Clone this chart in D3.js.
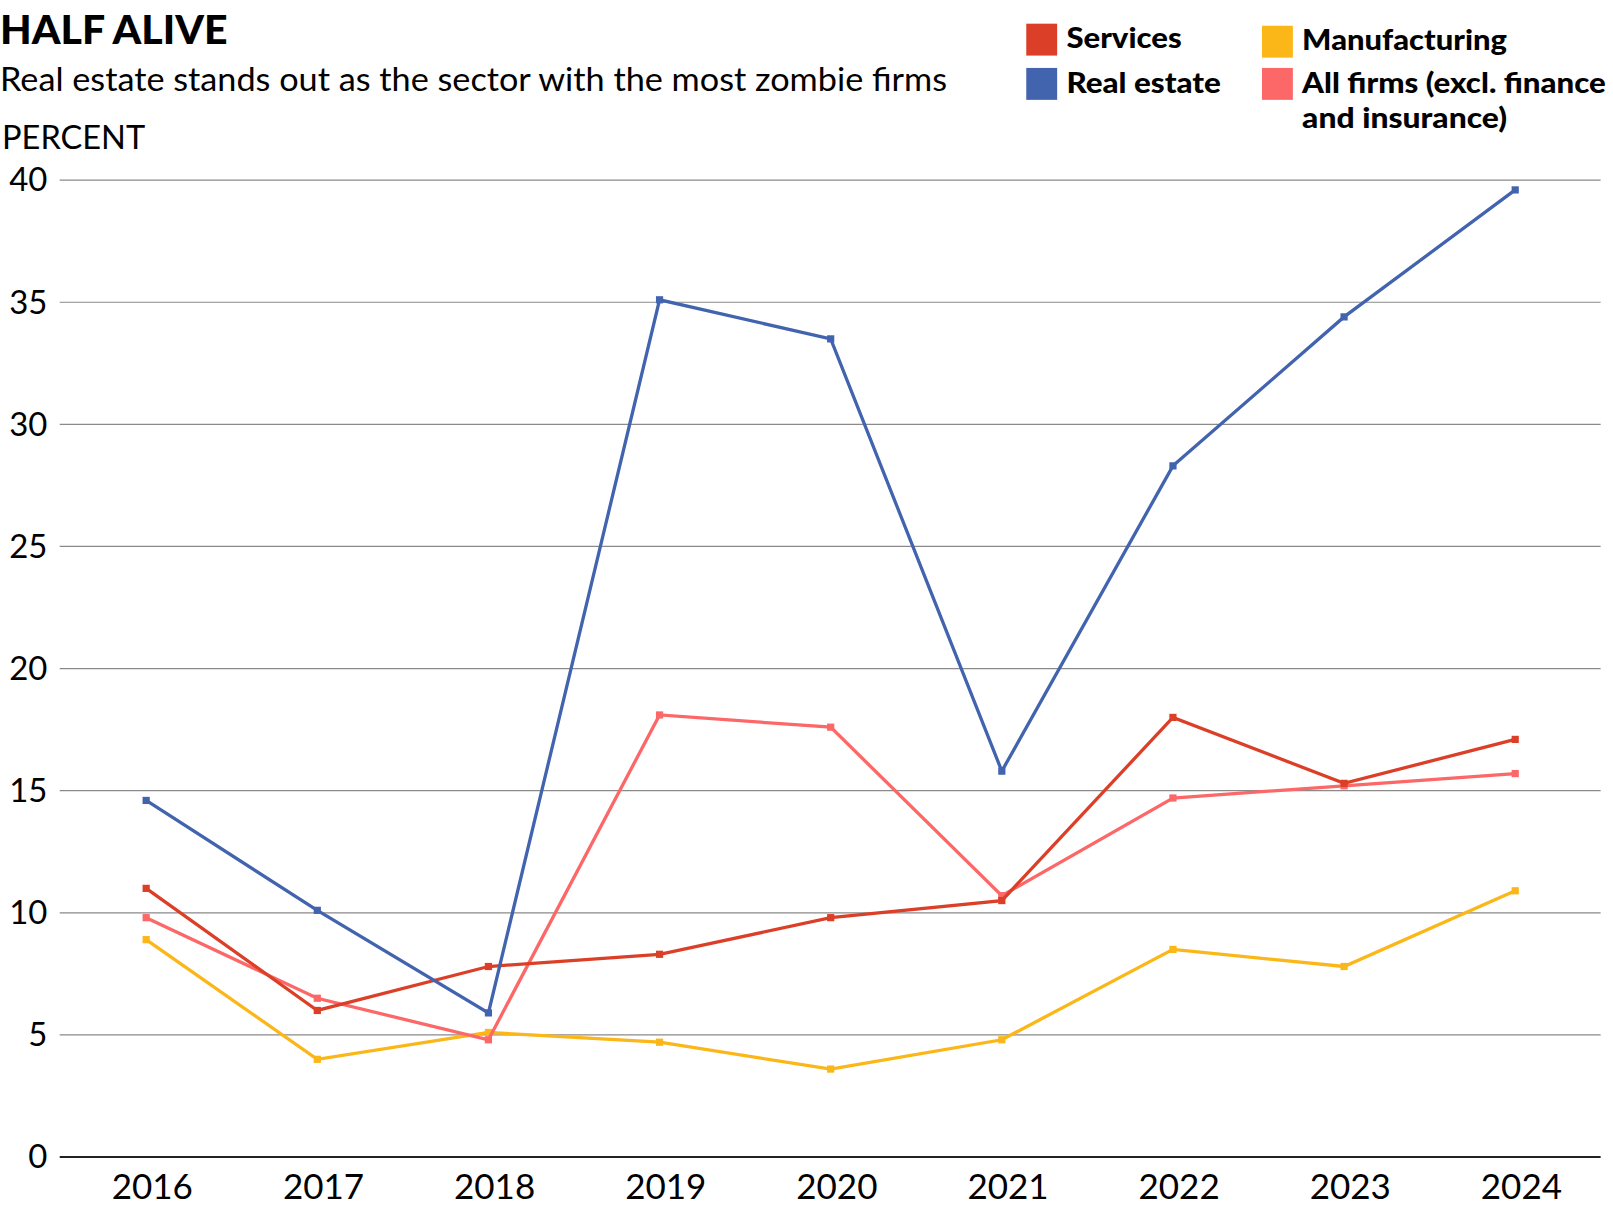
<!DOCTYPE html>
<html>
<head>
<meta charset="utf-8">
<script src="https://cdn.jsdelivr.net/npm/d3@7"></script>
<style>
  html, body { margin: 0; padding: 0; background: #fff; overflow: hidden; }
  svg { display: block; }
  svg text { font-family: Lato, "Open Sans", sans-serif; fill: #000; }
</style>
</head>
<body>
<script>
// data (percent of firms)
const years = [2016, 2017, 2018, 2019, 2020, 2021, 2022, 2023, 2024];
const services      = [11.0, 6.0, 7.8, 8.3, 9.8, 10.5, 18.0, 15.3, 17.1];
const realEstate    = [14.6, 10.1, 5.9, 35.1, 33.5, 15.8, 28.3, 34.4, 39.6];
const manufacturing = [8.9, 4.0, 5.1, 4.7, 3.6, 4.8, 8.5, 7.8, 10.9];
const allFirms      = [9.8, 6.5, 4.8, 18.1, 17.6, 10.7, 14.7, 15.2, 15.7];
const yTicks = [0, 5, 10, 15, 20, 25, 30, 35, 40];

const series = [
  {name: 'Manufacturing', values: manufacturing, color: '#fbb617'},
  {name: 'All firms', values: allFirms, color: '#fc6767'},
  {name: 'Services', values: services, color: '#dc3f27'},
  {name: 'Real estate', values: realEstate, color: '#4263ae'}
];

const W = 1613, H = 1223;
const k = 1613 / 1567; // layout below is measured on a 1567-wide view
const svg = d3.select('body').append('svg').attr('width', W).attr('height', H)
  .append('g').attr('transform', `scale(${k})`);

let x = d3.scalePoint().domain(years).range([142, 1472]);
let y = d3.scaleLinear().domain([0, 40]).range([1124, 175]);

// title block
svg.append('text').attr('x', 0).attr('y', 43)
  .style('font-size', '38px').style('font-weight', 900)
  .attr('textLength', 221).attr('lengthAdjust', 'spacingAndGlyphs')
  .text('HALF ALIVE');
svg.append('text').attr('x', 0).attr('y', 88)
  .style('font-size', '31px')
  .attr('textLength', 920).attr('lengthAdjust', 'spacingAndGlyphs')
  .text('Real estate stands out as the sector with the most zombie firms');
svg.append('text').attr('x', 2).attr('y', 145)
  .style('font-size', '32px')
  .attr('textLength', 139).attr('lengthAdjust', 'spacingAndGlyphs')
  .text('PERCENT');

// legend
const legend = [
  {name: 'Services', color: '#dc3f27', x: 997, y: 23, w: 112},
  {name: 'Real estate', color: '#4263ae', x: 997, y: 66, w: 150},
  {name: 'Manufacturing', color: '#fbb617', x: 1226, y: 25, w: 199},
  {name: 'All firms (excl. finance', color: '#fc6767', x: 1226, y: 66, w: 295}
];
legend.forEach(d => {
  svg.append('rect').attr('x', d.x).attr('y', d.y).attr('width', 30).attr('height', 31).attr('fill', d.color);
  svg.append('text').attr('x', d.x + 39).attr('y', d.y + 24)
    .style('font-size', '28px').style('font-weight', 900)
    .attr('textLength', d.w).attr('lengthAdjust', 'spacingAndGlyphs')
    .text(d.name);
});
svg.append('text').attr('x', 1265).attr('y', 124)
  .style('font-size', '28px').style('font-weight', 900)
  .attr('textLength', 199).attr('lengthAdjust', 'spacingAndGlyphs')
  .text('and insurance)');

// grid
const grid = svg.append('g');
grid.selectAll('line').data(yTicks).join('line')
  .attr('x1', 58).attr('x2', 1555)
  .attr('y1', d => y(d)).attr('y2', d => y(d))
  .attr('stroke', d => d === 0 ? '#222' : '#8a8a8a')
  .attr('stroke-width', d => d === 0 ? 2 : 1.2);
grid.selectAll('text').data(yTicks).join('text')
  .attr('x', 46).attr('y', d => y(d) + 11)
  .attr('text-anchor', 'end')
  .style('font-size', '32px')
  .text(d => d);

// x axis labels
svg.append('g').selectAll('text').data(years).join('text')
  .attr('x', d => x(d) + 6).attr('y', 1165)
  .attr('text-anchor', 'middle')
  .style('font-size', '34px')
  .text(d => d);

// lines
const line = d3.line().x((d, i) => x(years[i])).y(d => y(d));
series.forEach(s => {
  const g = svg.append('g');
  g.append('path').attr('d', line(s.values))
    .attr('fill', 'none').attr('stroke', s.color).attr('stroke-width', 3.2)
    .attr('stroke-linejoin', 'miter');
  g.selectAll('rect').data(s.values).join('rect')
    .attr('x', (d, i) => x(years[i]) - 3.5).attr('y', d => y(d) - 3.5)
    .attr('width', 7).attr('height', 7).attr('fill', s.color);
});
</script>
</body>
</html>
